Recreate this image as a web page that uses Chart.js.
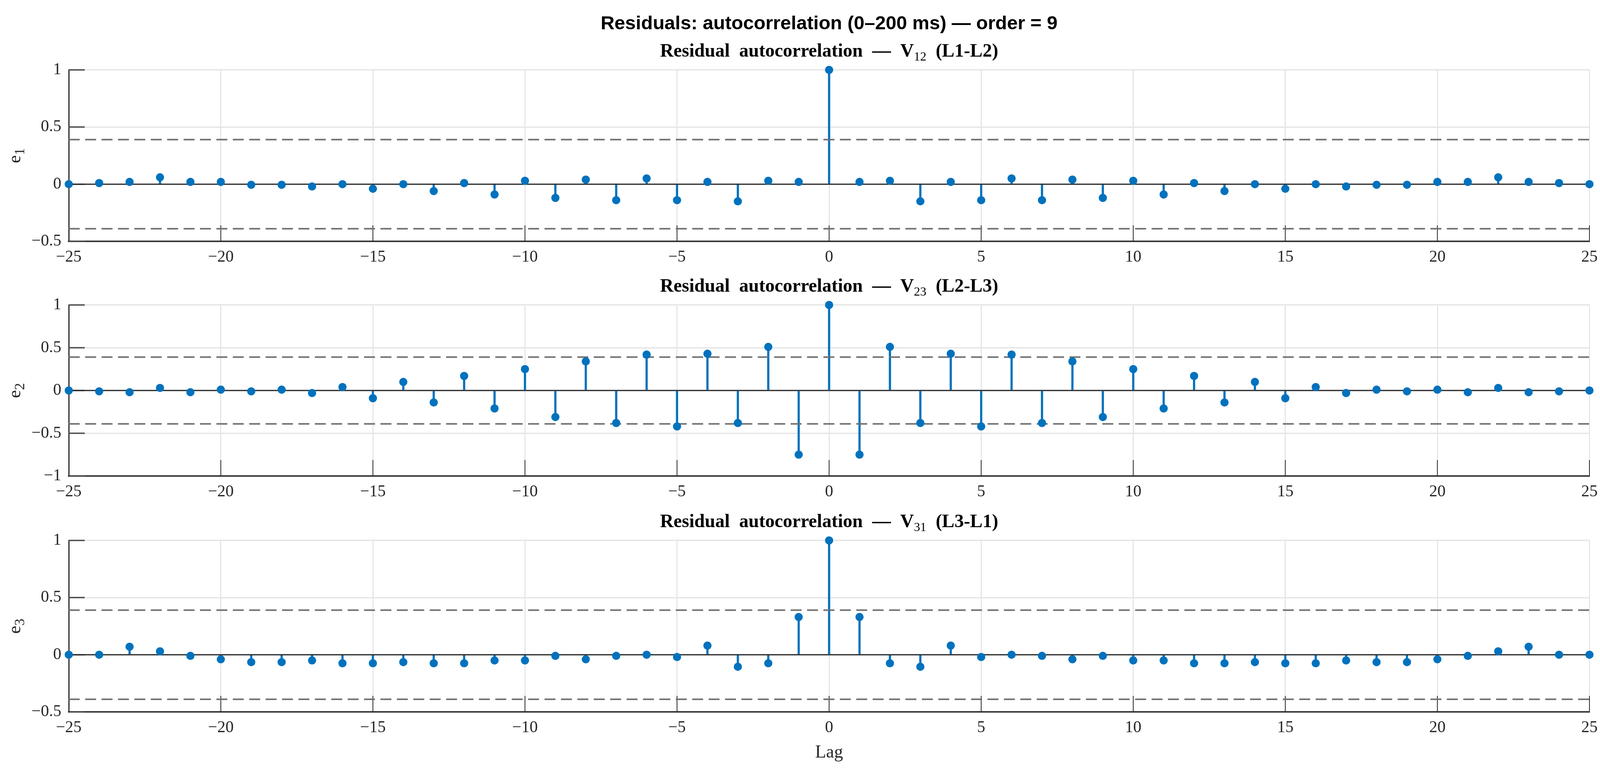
<!DOCTYPE html>
<html>
<head>
<meta charset="utf-8">
<script src="https://cdn.jsdelivr.net/npm/chart.js@4.4.1/dist/chart.umd.min.js"></script>
<style>
html,body{margin:0;padding:0;background:#ffffff;overflow:hidden;}
#wrap{position:relative;width:4117px;height:1977px;background:#fff;}
canvas{position:absolute;left:0;}
</style>
</head>
<body>
<div id="wrap">
<canvas id="c1" width="4117" height="700" style="top:0px;width:4117px;height:700px"></canvas>
<canvas id="c2" width="4117" height="600" style="top:700px;width:4117px;height:600px"></canvas>
<canvas id="c3" width="4117" height="677" style="top:1300px;width:4117px;height:677px"></canvas>
</div>
<script>
// ---------------- DATA ----------------
const mainTitle = 'Residuals: autocorrelation (0\u2013200 ms) \u2014 order = 9';
const lags = [-25,-24,-23,-22,-21,-20,-19,-18,-17,-16,-15,-14,-13,-12,-11,-10,-9,-8,-7,-6,-5,-4,-3,-2,-1,0,
              1,2,3,4,5,6,7,8,9,10,11,12,13,14,15,16,17,18,19,20,21,22,23,24,25];
const acfV12 = [0.00,0.01,0.02,0.06,0.02,0.02,-0.005,-0.005,-0.02,0.00,-0.04,0.00,-0.06,0.01,-0.09,0.03,-0.12,0.04,-0.14,0.05,-0.14,0.02,-0.15,0.03,0.02,
                1.00,
                0.02,0.03,-0.15,0.02,-0.14,0.05,-0.14,0.04,-0.12,0.03,-0.09,0.01,-0.06,0.00,-0.04,0.00,-0.02,-0.005,-0.005,0.02,0.02,0.06,0.02,0.01,0.00];
const acfV23 = [0.00,-0.01,-0.02,0.03,-0.02,0.01,-0.01,0.01,-0.03,0.04,-0.09,0.10,-0.14,0.17,-0.21,0.25,-0.31,0.34,-0.38,0.42,-0.42,0.43,-0.38,0.51,-0.75,
                1.00,
                -0.75,0.51,-0.38,0.43,-0.42,0.42,-0.38,0.34,-0.31,0.25,-0.21,0.17,-0.14,0.10,-0.09,0.04,-0.03,0.01,-0.01,0.01,-0.02,0.03,-0.02,-0.01,0.00];
const acfV31 = [0.00,0.00,0.07,0.03,-0.01,-0.04,-0.065,-0.065,-0.05,-0.075,-0.075,-0.065,-0.075,-0.075,-0.05,-0.05,-0.01,-0.04,-0.01,0.00,-0.02,0.08,-0.105,-0.075,0.33,
                1.00,
                0.33,-0.075,-0.105,0.08,-0.02,0.00,-0.01,-0.04,-0.01,-0.05,-0.05,-0.075,-0.075,-0.065,-0.075,-0.075,-0.05,-0.065,-0.065,-0.04,-0.01,0.03,0.07,0.00,0.00];
const confBounds = [0.39, 0.39, 0.39];
const channelSubs = ['12', '23', '31'];
const channelPairs = ['L1-L2', 'L2-L3', 'L3-L1'];
const yLabelSubs = ['1', '2', '3'];
const xTickValues = [-25,-20,-15,-10,-5,0,5,10,15,20,25];
const yTicks1 = [-0.5, 0, 0.5, 1];
const yTicks2 = [-1, -0.5, 0, 0.5, 1];
const yTicks3 = [-0.5, 0, 0.5, 1];
const xAxisLabel = 'Lag';

// ---------------- STYLE ----------------
const BLUE = '#0072BD';
const TICKFONT = {family: '"Liberation Serif", "Times New Roman", serif', size: 42};
const SERIF = '"Liberation Serif", "Times New Roman", serif';
const minusify = v => String(v).replace('-', '\u2212');

function drawParts(ctx, cx, baseY, parts) {
  let w = 0;
  parts.forEach(p => { ctx.font = p.font; p.w = ctx.measureText(p.t).width; w += p.w; });
  let x = cx - w / 2;
  ctx.textAlign = 'left';
  ctx.textBaseline = 'alphabetic';
  parts.forEach(p => { ctx.font = p.font; ctx.fillText(p.t, x, baseY + (p.dy || 0)); x += p.w; });
}

const decoPlugin = {
  id: 'deco',
  beforeDatasetsDraw(chart, args, opts) {
    const {ctx, chartArea: a, scales: {x, y}} = chart;
    ctx.save();
    ctx.lineCap = 'butt';
    ctx.strokeStyle = '#4d4d4d';
    ctx.lineWidth = 3.5;
    y.ticks.forEach(t => {
      const py = y.getPixelForValue(t.value);
      ctx.beginPath(); ctx.moveTo(a.left, py); ctx.lineTo(a.left + 41, py); ctx.stroke();
    });
    ctx.strokeStyle = '#262626';
    ctx.lineWidth = 2;
    x.ticks.forEach(t => {
      const px = x.getPixelForValue(t.value);
      ctx.beginPath(); ctx.moveTo(px, a.bottom); ctx.lineTo(px, a.bottom - 41); ctx.stroke();
    });
    ctx.restore();
  },
  afterDraw(chart, args, opts) {
    const {ctx, chartArea: a} = chart;
    const cx = (a.left + a.right) / 2;
    ctx.save();
    ctx.fillStyle = '#000000';
    if (opts.main) {
      ctx.font = 'bold 49px "Liberation Sans", Arial, sans-serif';
      ctx.textAlign = 'center';
      ctx.textBaseline = 'alphabetic';
      ctx.fillText(opts.main, cx, 75);
    }
    drawParts(ctx, cx, a.top - 34, [
      {t: 'Residual  autocorrelation  \u2014  V', font: 'bold 48px ' + SERIF},
      {t: opts.sub, font: '32px ' + SERIF, dy: 10},
      {t: '  (' + opts.pair + ')', font: 'bold 48px ' + SERIF}
    ]);
    // y label e_i
    ctx.fillStyle = '#262626';
    ctx.translate(44, (a.top + a.bottom) / 2);
    ctx.rotate(-Math.PI / 2);
    drawParts(ctx, 0, 8, [
      {t: 'e', font: '46px ' + SERIF},
      {t: opts.ysub, font: '36px ' + SERIF, dy: 10}
    ]);
    ctx.restore();
  }
};

function makeChart(id, vals, idx, yMin, yMax, yTicks, padTop, xHeight, withXLabel) {
  const pts = lags.map((l, i) => ({x: l, y: vals[i]}));
  const b = confBounds[idx];
  return new Chart(document.getElementById(id), {
    type: 'bar',
    data: {
      datasets: [
        {type: 'scatter', data: pts, backgroundColor: BLUE, borderWidth: 0, pointRadius: 10.5, order: 0, clip: false},
        {type: 'line', data: [{x: lags[0], y: 0}, {x: lags[lags.length - 1], y: 0}], borderColor: '#262626', borderWidth: 3, pointRadius: 0, order: 1},
        {type: 'line', data: [{x: lags[0], y: b}, {x: lags[lags.length - 1], y: b}], borderColor: '#707070', borderWidth: 4, borderDash: [28, 14], pointRadius: 0, order: 2},
        {type: 'line', data: [{x: lags[0], y: -b}, {x: lags[lags.length - 1], y: -b}], borderColor: '#707070', borderWidth: 4, borderDash: [28, 14], pointRadius: 0, order: 2},
        {type: 'bar', data: pts, backgroundColor: BLUE, borderWidth: 0, barThickness: 5, order: 3}
      ]
    },
    options: {
      responsive: false,
      animation: false,
      devicePixelRatio: 1,
      layout: {padding: {top: padTop, left: 0, right: 48, bottom: 0}},
      plugins: {
        legend: {display: false},
        tooltip: {enabled: false},
        title: {display: false},
        deco: {main: idx === 0 ? mainTitle : null, sub: channelSubs[idx], pair: channelPairs[idx], ysub: yLabelSubs[idx]}
      },
      events: [],
      scales: {
        x: {
          type: 'linear', min: lags[0], max: lags[lags.length - 1], offset: false,
          afterBuildTicks: s => { s.ticks = xTickValues.map(v => ({value: v})); },
          afterFit: s => { s.height = xHeight; },
          grid: {color: '#dcdcdc', lineWidth: 2, drawTicks: false, offset: false},
          border: {display: true, color: '#3a3a3a', width: 4},
          ticks: {font: TICKFONT, color: '#262626', padding: 16, maxRotation: 0, autoSkip: false, callback: v => minusify(v)},
          title: {display: withXLabel, text: xAxisLabel, color: '#262626', font: {family: SERIF, size: 46}, padding: {top: 0, bottom: 21}}
        },
        y: {
          type: 'linear', min: yMin, max: yMax,
          afterBuildTicks: s => { s.ticks = yTicks.map(v => ({value: v})); },
          afterFit: s => { s.width = 176; },
          grid: {color: '#e6e6e6', lineWidth: 3.5, drawTicks: false},
          border: {display: true, color: '#262626', width: 3},
          ticks: {font: TICKFONT, color: '#262626', padding: 19, callback: v => minusify(v)}
        }
      }
    },
    plugins: [decoPlugin]
  });
}

makeChart('c1', acfV12, 0, -0.5, 1, yTicks1, 179, 82, false);
makeChart('c2', acfV23, 1, -1, 1, yTicks2, 81, 81, false);
makeChart('c3', acfV31, 2, -0.5, 1, yTicks3, 84, 154, true);
</script>
</body>
</html>
